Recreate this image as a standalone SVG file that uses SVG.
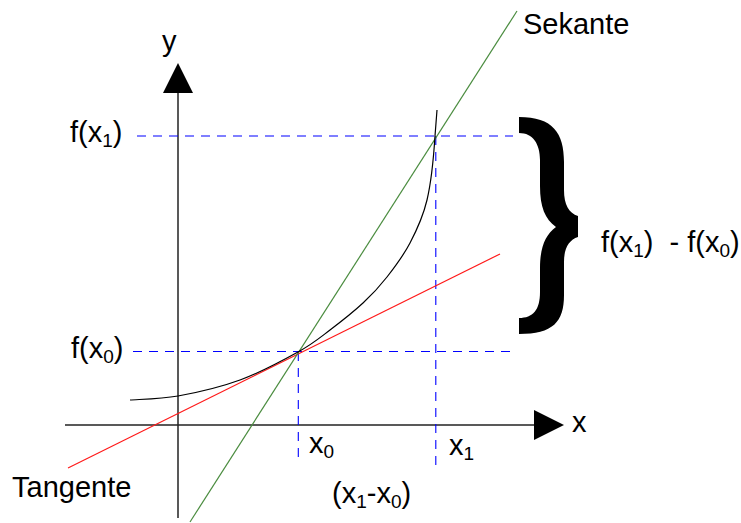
<svg xmlns="http://www.w3.org/2000/svg" width="741" height="523" viewBox="0 0 741 523">
<style>
text{font-family:"Liberation Sans",Arial,sans-serif;font-size:29px;fill:#000;white-space:pre}
.sub{font-size:19px}
.axis{stroke:#222;stroke-width:1.5;fill:none}
.dash{stroke:#0000ff;stroke-dasharray:9 7;stroke-width:1.1;fill:none}
</style>
<rect width="741" height="523" fill="#fff"/>
<g id="axes">
<line class="axis" x1="178" y1="92" x2="178" y2="518"/>
<polygon points="178,63 163,93 193,93" fill="#000"/>
<line class="axis" x1="65" y1="425" x2="536" y2="425"/>
<polygon points="564,425 534,410 534,440" fill="#000"/>
<text x="162" y="51">y</text>
<text x="572" y="432">x</text>
</g>
<g id="guides">
<line class="dash" x1="137" y1="136" x2="513" y2="136"/>
<line class="dash" x1="133" y1="351.5" x2="514" y2="351.5" stroke="#0000c8" stroke-width="1"/>
<line class="dash" x1="435.8" y1="136" x2="435.8" y2="469" stroke-dasharray="11 8"/>
<line class="dash" x1="298.3" y1="352" x2="298.3" y2="463" stroke-dasharray="11 7"/>
</g>
<g id="lines">
<line id="tangente" x1="68" y1="468" x2="500" y2="254" stroke="#ff1a1a" stroke-width="1.2"/>
<line id="sekante" x1="190" y1="522" x2="517" y2="11" stroke="#4a8c3f" stroke-width="1.2"/>
<path id="curve" d="M130,400 C138,399.3 159.7,399.3 178,396 C196.3,392.7 220,387.3 240,380 C260,372.7 283,360.3 298,352 C313,343.7 319.2,338.2 330,330 C340.8,321.8 353.5,311.8 363,303 C372.5,294.2 379.2,287 387,277 C394.8,267 403.3,255.8 410,243 C416.7,230.2 422.8,217.8 427,200 C431.2,182.2 433.6,158 435,136 C436.2,121 436.7,114.3 437,110" fill="none" stroke="#000" stroke-width="1.2"/>
</g>
<g id="brace">
<path d="M519,117 C553,117 564,133 564,162 L564,190 C564,205 569,213 578,216 L578,237 C569,240 564,248 564,262 L564,295 C564,322 553,334 519,334 L519,318 C533,318 540,310 540,292 L540,268 C540,248 545,235 556,227 C545,219 540,207 540,186 L540,160 C540,144 533,133 519,133 Z" fill="#000"/>
</g>
<g id="labels">
<text x="70" y="142">f(x<tspan class="sub" dy="5">1</tspan><tspan dy="-5">)</tspan></text>
<text x="71" y="358">f(x<tspan class="sub" dy="5">0</tspan><tspan dy="-5">)</tspan></text>
<text x="601" y="252">f(x<tspan class="sub" dy="5">1</tspan><tspan dy="-5">)  - f(x</tspan><tspan class="sub" dy="5">0</tspan><tspan dy="-5">)</tspan></text>
<text x="309" y="453">x<tspan class="sub" dy="5">0</tspan></text>
<text x="449" y="455">x<tspan class="sub" dy="5">1</tspan></text>
<text x="332" y="503">(x<tspan class="sub" dy="5">1</tspan><tspan dy="-5">-x</tspan><tspan class="sub" dy="5">0</tspan><tspan dy="-5">)</tspan></text>
<text x="12" y="497">Tangente</text>
<text x="523" y="34">Sekante</text>
</g>
</svg>
